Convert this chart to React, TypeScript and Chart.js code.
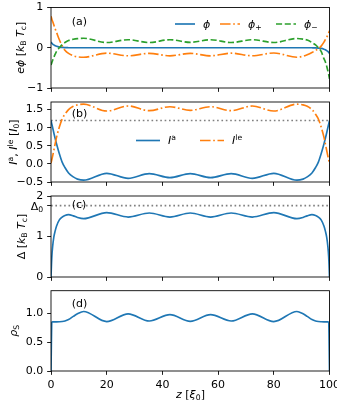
import React, { useEffect, useRef } from 'react';
import { Chart, registerables } from 'chart.js';
Chart.register(...registerables);

// ---------- data ----------
const z = [0, 0.3, 0.6, 1, 1.5, 2, 3, 4, 5, 6.3, 8, 9.5, 11.7, 20, 27.7, 35.3, 42.7, 50, 57.3, 64.7, 72.3, 80, 88.3, 90.5, 92, 93.7, 95, 96, 97, 98, 98.5, 99, 99.4, 99.7, 100];

const phi = [0.14, 0.115, 0.092, 0.07, 0.05, 0.035, 0.017, 0.008, 0.003, 0.001, 0, 0, 0, 0, 0, 0, 0, 0, 0, 0, 0, 0, 0, 0, 0, -0.001, -0.003, -0.008, -0.017, -0.035, -0.05, -0.07, -0.092, -0.115, -0.14];
const phiPlus = [0.78, 0.71, 0.65, 0.57, 0.47, 0.38, 0.2, 0.05, -0.06, -0.14, -0.2, -0.225, -0.235, -0.135, -0.2, -0.14, -0.2, -0.14, -0.2, -0.135, -0.2, -0.13, -0.235, -0.21, -0.175, -0.12, -0.065, -0.03, 0.04, 0.14, 0.2, 0.26, 0.32, 0.37, 0.42];
const phiMinus = [-0.43, -0.37, -0.31, -0.24, -0.16, -0.09, 0.0, 0.08, 0.13, 0.18, 0.21, 0.225, 0.235, 0.13, 0.2, 0.13, 0.2, 0.135, 0.2, 0.13, 0.2, 0.13, 0.23, 0.215, 0.19, 0.13, 0.07, 0.0, -0.09, -0.27, -0.35, -0.46, -0.57, -0.66, -0.77];

const currentA = [1.2, 1.1, 1.0, 0.86, 0.7, 0.55, 0.28, 0.05, -0.1, -0.25, -0.36, -0.42, -0.45, -0.26, -0.4, -0.27, -0.38, -0.27, -0.38, -0.27, -0.4, -0.26, -0.45, -0.42, -0.36, -0.25, -0.1, 0.05, 0.28, 0.55, 0.7, 0.86, 1.0, 1.1, 1.2];
const currentLE = [0.02, 0.12, 0.22, 0.37, 0.56, 0.74, 1.02, 1.24, 1.37, 1.5, 1.59, 1.63, 1.65, 1.46, 1.6, 1.47, 1.58, 1.48, 1.58, 1.47, 1.6, 1.46, 1.65, 1.63, 1.59, 1.5, 1.37, 1.24, 1.02, 0.74, 0.56, 0.37, 0.22, 0.12, 0.02];
const currentRef = 1.2;

const gap = [0, 0.5, 0.76, 0.98, 1.14, 1.26, 1.41, 1.48, 1.52, 1.54, 1.51, 1.47, 1.44, 1.59, 1.48, 1.58, 1.48, 1.58, 1.48, 1.58, 1.48, 1.59, 1.44, 1.47, 1.51, 1.54, 1.52, 1.48, 1.41, 1.26, 1.14, 0.98, 0.76, 0.5, 0];
const gapRef = 1.764;

const rhoS = [0, 0.84, 0.85, 0.85, 0.85, 0.85, 0.852, 0.856, 0.865, 0.89, 0.945, 0.99, 1.03, 0.855, 0.99, 0.865, 0.975, 0.86, 0.975, 0.865, 0.99, 0.855, 1.03, 0.99, 0.945, 0.89, 0.865, 0.856, 0.852, 0.85, 0.85, 0.85, 0.85, 0.84, 0];

const xRange = [0, 100];
const yTicksA = [-1, 0, 1];
const yTicksB = [-0.5, 0, 0.5, 1.0, 1.5];
const yTicksC = [0, 1, 2, gapRef];
const yTicksD = [0, 0.5, 1.0];

// ---------- style ----------
const FONT = '"DejaVu Sans"';
const FS = 11;
const TL = 3.85;
const LW = 1.65;
const SPINE = 0.88;
const DASHDOT = [10.56, 2.64, 1.65, 2.64];
const DASHED = [6.1, 2.64];
const DOTTED = [1.65, 2.72];
const C0 = '#1f77b4', C1 = '#ff7f0e', C2 = '#2ca02c', GRAY = '#808080';
const W = 337;
const LEFT = 51;
const RIGHT_PAD = 7.5;

type Seg = { t: string; it?: boolean; sub?: boolean; sup?: boolean };

function drawRich(ctx: CanvasRenderingContext2D, segs: Seg[], x: number, y: number, size: number, align: 'left' | 'center' | 'right', rotate = false) {
  const fontOf = (s: Seg) => `${s.it ? 'italic ' : ''}${(s.sub || s.sup) ? size * 0.7 : size}px ${FONT}`;
  let w = 0;
  const widths = segs.map(s => { ctx.font = fontOf(s); const m = ctx.measureText(s.t).width; w += m; return m; });
  ctx.save();
  ctx.translate(x, y);
  if (rotate) ctx.rotate(-Math.PI / 2);
  ctx.fillStyle = '#000';
  ctx.textBaseline = 'alphabetic';
  ctx.textAlign = 'left';
  let cx = align === 'left' ? 0 : align === 'center' ? -w / 2 : -w;
  const base = size * 0.36;
  segs.forEach((s, i) => {
    ctx.font = fontOf(s);
    const dy = s.sub ? size * 0.22 : s.sup ? -size * 0.4 : 0;
    ctx.fillText(s.t, cx, base + dy);
    cx += widths[i];
  });
  ctx.restore();
}

const pts = (vals: number[]) => z.map((x, i) => ({ x, y: vals[i] }));
const flat = (v: number) => [{ x: xRange[0], y: v }, { x: xRange[1], y: v }];

const line = (data: any, color: string, dash: number[], order: number) => ({
  data, borderColor: color, borderWidth: LW, borderDash: dash, pointRadius: 0,
  cubicInterpolationMode: 'monotone', fill: false, order,
});

type Legend = { x0: number; len: number; tx: number; color: string; dash: number[]; label: Seg[] }[];

type Panel = {
  top: number; height: number; areaTop: number; areaBottom: number;
  ymin: number; ymax: number; yticks: number[]; fmt: (v: number) => string;
  showX: boolean; datasets: any[]; ylabel: Seg[]; ylabelX: number;
  tag: string; tagY: number; legend?: Legend; legendY?: number;
  extra?: (chart: any, ctx: CanvasRenderingContext2D, top: number) => void;
};

const minus = (s: string) => s.replace('-', '\u2212');

const panels: Panel[] = [
  {
    top: 0, height: 95, areaTop: 7.5, areaBottom: 88, ymin: -1, ymax: 1, yticks: yTicksA,
    fmt: v => minus(String(v)), showX: false,
    datasets: [line(pts(phi), C0, [], 3), line(pts(phiPlus), C1, DASHDOT, 2), line(pts(phiMinus), C2, DASHED, 1)],
    ylabel: [{ t: 'e', it: true }, { t: 'ϕ', it: true }, { t: ' [' }, { t: 'k', it: true }, { t: 'B', sub: true }, { t: ' ' }, { t: 'T', it: true }, { t: 'c', sub: true }, { t: ']' }],
    ylabelX: 20, tag: '(a)', tagY: 20.7,
    legend: [
      { x0: 175, len: 20, tx: 203, color: C0, dash: [], label: [{ t: 'ϕ', it: true }] },
      { x0: 220, len: 20, tx: 248, color: C1, dash: DASHDOT, label: [{ t: 'ϕ', it: true }, { t: '+', sub: true }] },
      { x0: 276, len: 20, tx: 304, color: C2, dash: DASHED, label: [{ t: 'ϕ', it: true }, { t: '\u2212', sub: true }] },
    ],
    legendY: 24,
  },
  {
    top: 95, height: 95, areaTop: 102, areaBottom: 182, ymin: -0.5, ymax: 1.71, yticks: yTicksB,
    fmt: v => minus(v.toFixed(1)), showX: false,
    datasets: [line(flat(currentRef), GRAY, DOTTED, 10), line(pts(currentA), C0, [], 3), line(pts(currentLE), C1, DASHDOT, 2)],
    ylabel: [{ t: 'I', it: true }, { t: 'a', sup: true }, { t: ', ' }, { t: 'I', it: true }, { t: 'le', sup: true }, { t: ' [' }, { t: 'I', it: true }, { t: '0', sub: true }, { t: ']' }],
    ylabelX: 13, tag: '(b)', tagY: 113,
    legend: [
      { x0: 136, len: 24, tx: 168, color: C0, dash: [], label: [{ t: 'I', it: true }, { t: 'a', sup: true }] },
      { x0: 200, len: 24, tx: 232, color: C1, dash: DASHDOT, label: [{ t: 'I', it: true }, { t: 'le', sup: true }] },
    ],
    legendY: 140.5,
  },
  {
    top: 190, height: 95, areaTop: 196, areaBottom: 277, ymin: 0, ymax: 2, yticks: yTicksC,
    fmt: v => (v === gapRef ? '' : String(v)), showX: false,
    datasets: [line(flat(gapRef), GRAY, DOTTED, 10), line(pts(gap), C0, [], 3)],
    ylabel: [{ t: 'Δ' }, { t: ' [' }, { t: 'k', it: true }, { t: 'B', sub: true }, { t: ' ' }, { t: 'T', it: true }, { t: 'c', sub: true }, { t: ']' }],
    ylabelX: 21, tag: '(c)', tagY: 204.5,
    extra: (chart, ctx) => {
      const y = chart.scales.y.getPixelForValue(gapRef);
      drawRich(ctx, [{ t: 'Δ' }, { t: '0', sub: true }], LEFT - TL - 4, y, FS, 'right');
    },
  },
  {
    top: 285, height: 120, areaTop: 290.7, areaBottom: 371, ymin: 0, ymax: 1.39, yticks: yTicksD,
    fmt: v => v.toFixed(1), showX: true,
    datasets: [line(pts(rhoS), C0, [], 3)],
    ylabel: [{ t: 'ρ', it: true }, { t: 'S', sub: true }],
    ylabelX: 13, tag: '(d)', tagY: 303,
    extra: (chart, ctx, top) => {
      drawRich(ctx, [{ t: 'z', it: true }, { t: ' [' }, { t: 'ξ', it: true }, { t: '0', sub: true }, { t: ']' }], 190.5, 394 - top, FS, 'center');
    },
  },
];

function buildChart(canvas: HTMLCanvasElement, p: Panel) {
  const xHeight = p.height - (p.areaBottom - p.top);
  const tickFont = { family: FONT, size: FS };
  const grid = { display: true, drawOnChartArea: false, drawTicks: true, tickLength: TL, color: '#000', lineWidth: SPINE };
  const deco = {
    id: 'deco',
    afterDraw(chart: any) {
      const ctx: CanvasRenderingContext2D = chart.ctx;
      const a = chart.chartArea;
      ctx.save();
      ctx.strokeStyle = '#000';
      ctx.lineWidth = SPINE;
      ctx.setLineDash([]);
      ctx.strokeRect(a.left, a.top, a.right - a.left, a.bottom - a.top);
      ctx.restore();
      drawRich(ctx, p.ylabel, p.ylabelX, (a.top + a.bottom) / 2, FS, 'center', true);
      drawRich(ctx, [{ t: p.tag }], 71.7, p.tagY - p.top, FS, 'left');
      if (p.legend && p.legendY !== undefined) {
        const ly = p.legendY - p.top;
        p.legend.forEach(it => {
          ctx.save();
          ctx.strokeStyle = it.color;
          ctx.lineWidth = LW;
          ctx.setLineDash(it.dash);
          ctx.beginPath();
          ctx.moveTo(it.x0, ly);
          ctx.lineTo(it.x0 + it.len, ly);
          ctx.stroke();
          ctx.restore();
          drawRich(ctx, it.label, it.tx, ly, FS, 'left');
        });
      }
      if (p.extra) p.extra(chart, ctx, p.top);
    },
  };
  return new Chart(canvas, {
    type: 'line',
    data: { datasets: p.datasets },
    options: {
      responsive: false,
      animation: false,
      devicePixelRatio: 1,
      layout: { padding: { top: p.areaTop - p.top, right: RIGHT_PAD, left: 0, bottom: 0 } },
      plugins: { legend: { display: false }, tooltip: { enabled: false }, title: { display: false } },
      scales: {
        x: {
          type: 'linear', min: xRange[0], max: xRange[1],
          ticks: { stepSize: 20, display: p.showX, color: '#000', font: tickFont, padding: TL, maxRotation: 0, autoSkip: false },
          grid, border: { display: false },
          afterFit: (s: any) => { s.height = xHeight; s.paddingLeft = 0; s.paddingRight = 0; },
        },
        y: {
          type: 'linear', min: p.ymin, max: p.ymax,
          afterBuildTicks: (s: any) => { s.ticks = p.yticks.map(v => ({ value: v })); },
          ticks: { callback: (v: any) => p.fmt(Number(v)), color: '#000', font: tickFont, padding: 4, autoSkip: false },
          grid, border: { display: false },
          afterFit: (s: any) => { s.width = LEFT; s.paddingTop = 0; s.paddingBottom = 0; },
        },
      },
    } as any,
    plugins: [deco],
  });
}

export default function App() {
  const refs = useRef<(HTMLCanvasElement | null)[]>([]);
  useEffect(() => {
    const charts = panels.map((p, i) => buildChart(refs.current[i] as HTMLCanvasElement, p));
    return () => charts.forEach(c => c.destroy());
  }, []);
  return (
    <div style={{ position: 'absolute', left: 0, top: 0, width: W, height: 405, background: '#fff' }}>
      {panels.map((p, i) => (
        <canvas
          key={i}
          ref={el => { refs.current[i] = el; }}
          width={W}
          height={p.height}
          style={{ position: 'absolute', left: 0, top: p.top, width: W, height: p.height }}
        />
      ))}
    </div>
  );
}
